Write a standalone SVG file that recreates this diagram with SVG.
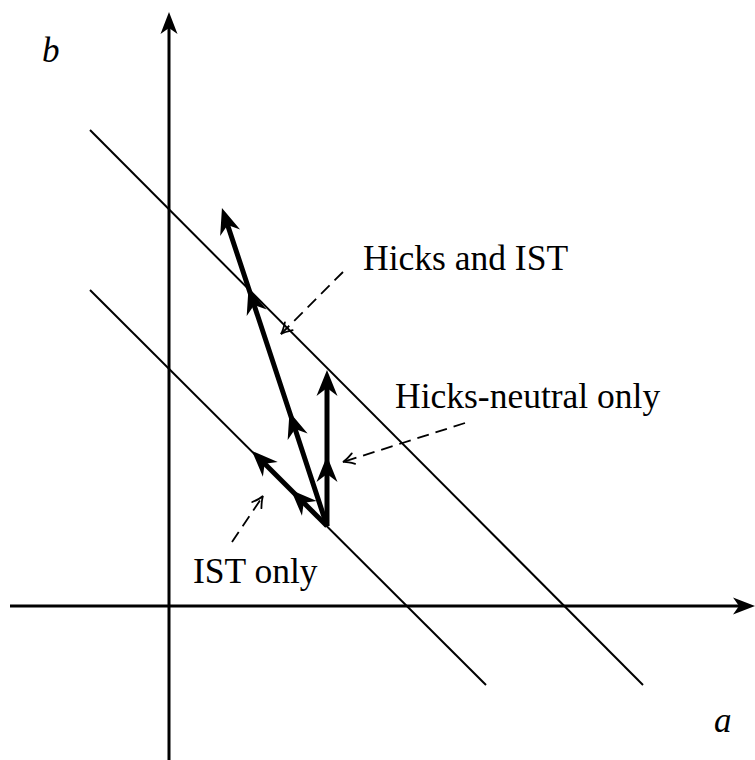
<svg xmlns="http://www.w3.org/2000/svg" width="755" height="760" viewBox="0 0 755 760">
<style>
  .lbl { font-family: "Liberation Serif", "DejaVu Serif", serif; font-size: 35.5px; fill: #000; }
  .var { font-family: "Liberation Serif", "DejaVu Serif", serif; font-size: 35px; font-style: italic; fill: #000; }
  .axis { stroke: #000; stroke-width: 3; fill: none; }
  .iso { stroke: #000; stroke-width: 2; fill: none; }
  .vec { stroke: #000; stroke-width: 5; fill: none; stroke-linejoin: round; }
  .dash { stroke: #000; stroke-width: 1.8; fill: none; stroke-dasharray: 12 7; }
</style>
<defs>
  <marker id="axhead" markerUnits="userSpaceOnUse" viewBox="-30 -12 42 24" markerWidth="42" markerHeight="24" refX="-6" refY="0" orient="auto" overflow="visible">
    <path d="M0,0 L-22,-8.5 L-16,0 L-22,8.5 Z" fill="#000"/>
  </marker>
  <marker id="vmid" markerUnits="userSpaceOnUse" viewBox="-30 -12 42 24" markerWidth="42" markerHeight="24" refX="0" refY="0" orient="auto" overflow="visible">
    <path d="M0,0 L-26,-10.5 L-18,0 L-26,10.5 Z" fill="#000"/>
  </marker>
  <marker id="vend" markerUnits="userSpaceOnUse" viewBox="-30 -12 42 24" markerWidth="42" markerHeight="24" refX="-10" refY="0" orient="auto" overflow="visible">
    <path d="M0,0 L-26,-10.5 L-18,0 L-26,10.5 Z" fill="#000"/>
  </marker>
  <marker id="dhead" markerUnits="userSpaceOnUse" viewBox="-14 -8 18 16" markerWidth="18" markerHeight="16" refX="0" refY="0" orient="auto" overflow="visible">
    <path d="M-11,-5.5 Q-4,-1 0,0 Q-4,1 -11,5.5" fill="none" stroke="#000" stroke-width="1.8" stroke-linecap="round"/>
  </marker>
</defs>

<g id="axes">
  <line class="axis" x1="169" y1="760" x2="169" y2="18" marker-end="url(#axhead)"/>
  <line class="axis" x1="10" y1="606" x2="749" y2="606" marker-end="url(#axhead)"/>
  <text class="var" x="42" y="62">b</text>
  <text class="var" x="714" y="732">a</text>
</g>

<g id="isoquants">
  <line class="iso" x1="90" y1="130" x2="643" y2="685"/>
  <line class="iso" x1="90" y1="290" x2="486" y2="685"/>
</g>

<g id="connectors">
  <path class="vec" d="M327,526 L289.5,412 L248.5,288 L225.1,217.5" marker-mid="url(#vmid)" marker-end="url(#vend)"/>
  <path class="vec" d="M327,526 L327,456 L327,380" marker-mid="url(#vmid)" marker-end="url(#vend)"/>
  <path class="vec" d="M327,526 L291,490 L259,458" marker-mid="url(#vmid)" marker-end="url(#vend)"/>
  <line class="dash" x1="343" y1="272" x2="281" y2="334" marker-end="url(#dhead)"/>
  <line class="dash" x1="465" y1="423" x2="343" y2="462" marker-end="url(#dhead)"/>
  <line class="dash" x1="232" y1="542" x2="263" y2="496" marker-end="url(#dhead)"/>
</g>

<g id="label-hicks-ist"><text class="lbl" x="363" y="270">Hicks and IST</text></g>
<g id="label-hicks-neutral"><text class="lbl" x="395" y="408">Hicks-neutral only</text></g>
<g id="label-ist-only"><text class="lbl" x="193" y="583">IST only</text></g>
</svg>
